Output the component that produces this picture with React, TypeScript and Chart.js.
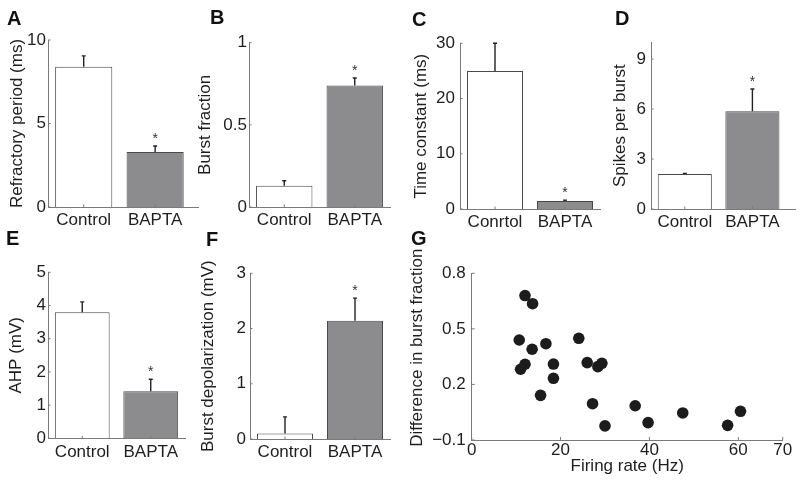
import React, { useEffect, useRef } from 'react';
import { Chart, registerables } from 'chart.js';

Chart.register(...registerables);

// ---------------- data ----------------
const groupLabels = ['Control', 'BAPTA'];
const groupLabelsC = ['Conrtol', 'BAPTA'];
const groupPositions = [1, 2];
const significance = ['', '*'];

const refractoryMean = [8.4, 3.3];
const refractoryErr = [0.65, 0.35];
const refractoryTicks = [0, 5, 10];

const burstFractionMean = [0.13, 0.74];
const burstFractionErr = [0.03, 0.045];
const burstFractionTicks = [0, 0.5, 1];

const timeConstantMean = [25.0, 1.45];
const timeConstantErr = [5.0, 0.15];
const timeConstantTicks = [0, 10, 20, 30];

const spikesPerBurstMean = [2.1, 5.86];
const spikesPerBurstErr = [0.04, 1.34];
const spikesPerBurstTicks = [0, 3, 6, 9];

const ahpMean = [3.8, 1.42];
const ahpErr = [0.31, 0.36];
const ahpTicks = [0, 1, 2, 3, 4, 5];

const burstDepolMean = [0.1, 2.14];
const burstDepolErr = [0.3, 0.41];
const burstDepolTicks = [0, 1, 2, 3];

const firingRate = [12.0, 13.7, 10.7, 13.6, 16.7, 12.0, 11.0, 18.4, 18.4, 15.5, 24.1, 26.0, 28.4, 29.3, 27.2, 30.0, 36.8, 39.7, 47.5, 57.6, 60.5];
const burstDiff = [0.68, 0.636, 0.44, 0.39, 0.42, 0.309, 0.282, 0.31, 0.233, 0.141, 0.449, 0.318, 0.296, 0.314, 0.096, -0.024, 0.085, -0.006, 0.046, -0.021, 0.055];
const firingTicks = [0, 20, 40, 60, 70];
const burstDiffTicks = [-0.1, 0.2, 0.5, 0.8];

// ---------------- style ----------------
const FONT = '"Liberation Sans", Arial, Helvetica, sans-serif';
const TEXT = '#1e1e1e';
const AXIS = '#7a7a7a';
const BAR_EDGE = '#4a4a4a';
const FILLS = ['#ffffff', '#8c8c8e'];
const DOT = '#1c1c1c';

type Box = { x0: number; y0: number; x1: number; y1: number };
type Area = { L: number; T: number; R: number; B: number };

const fmt = (v: number) => {
  const s = String(Math.round(v * 1000) / 1000);
  return s.startsWith('-') ? '\u2212' + s.slice(1) : s;
};

function decorPlugin(cfg: {
  means?: number[];
  errs?: number[];
  marks?: string[];
  tickLen: number;
  yTitle?: { text: string; x: number; y: number };
}) {
  return {
    id: 'decor',
    afterDatasetsDraw(chart: any) {
      const { ctx, scales } = chart;
      const x = scales.x;
      const y = scales.y;
      const area = chart.chartArea;
      ctx.save();
      // error bars and significance
      if (cfg.means && cfg.errs) {
        cfg.means.forEach((m, i) => {
          const px = x.getPixelForValue(groupPositions[i]);
          const p0 = y.getPixelForValue(m);
          const p1 = y.getPixelForValue(m + cfg.errs![i]);
          ctx.strokeStyle = '#222';
          ctx.lineWidth = 1.4;
          ctx.beginPath();
          ctx.moveTo(px, p0);
          ctx.lineTo(px, p1);
          ctx.moveTo(px - 2, p1);
          ctx.lineTo(px + 2, p1);
          ctx.stroke();
          const mk = cfg.marks ? cfg.marks[i] : '';
          if (mk) {
            ctx.fillStyle = '#333';
            ctx.font = `14px ${FONT}`;
            ctx.textAlign = 'center';
            ctx.textBaseline = 'alphabetic';
            ctx.fillText(mk, px, p1 - 3);
          }
        });
      }
      // inward tick marks
      ctx.strokeStyle = AXIS;
      ctx.lineWidth = 1;
      ctx.beginPath();
      y.ticks.forEach((t: any) => {
        const py = y.getPixelForValue(t.value);
        ctx.moveTo(area.left, py);
        ctx.lineTo(area.left + cfg.tickLen, py);
      });
      x.ticks.forEach((t: any) => {
        const px = x.getPixelForValue(t.value);
        ctx.moveTo(px, area.bottom);
        ctx.lineTo(px, area.bottom - cfg.tickLen);
      });
      ctx.stroke();
      ctx.restore();
    },
    afterDraw(chart: any) {
      if (!cfg.yTitle) return;
      const { ctx } = chart;
      ctx.save();
      ctx.translate(cfg.yTitle.x, cfg.yTitle.y);
      ctx.rotate(-Math.PI / 2);
      ctx.fillStyle = TEXT;
      ctx.font = `17px ${FONT}`;
      ctx.textAlign = 'center';
      ctx.textBaseline = 'middle';
      ctx.fillText(cfg.yTitle.text, 0, 0);
      ctx.restore();
    },
  };
}

type BarProps = {
  box: Box;
  area: Area;
  labels: string[];
  means: number[];
  errs: number[];
  yMax: number;
  yTicks: number[];
  xMax: number;
  yTitle: string;
  titleX: number;
  yTickPad: number;
};

function BarPanel(p: BarProps) {
  const ref = useRef<HTMLCanvasElement | null>(null);
  const w = p.box.x1 - p.box.x0;
  const h = p.box.y1 - p.box.y0;
  useEffect(() => {
    if (!ref.current) return;
    const chart = new Chart(ref.current, {
      type: 'bar',
      data: {
        datasets: [
          {
            data: groupPositions.map((g, i) => ({ x: g, y: p.means[i] })),
            backgroundColor: FILLS,
            borderColor: BAR_EDGE,
            borderWidth: 1,
            barPercentage: 0.8,
            categoryPercentage: 1,
          } as any,
        ],
      },
      options: {
        animation: false,
        responsive: false,
        devicePixelRatio: 1,
        layout: {
          padding: { left: 0, top: p.area.T - p.box.y0, right: p.box.x1 - p.area.R, bottom: 0 },
        },
        plugins: { legend: { display: false }, tooltip: { enabled: false } },
        scales: {
          x: {
            type: 'linear',
            offset: false,
            min: 0.5,
            max: p.xMax,
            grid: { display: false, drawTicks: false },
            border: { display: true, color: AXIS, width: 1 },
            ticks: {
              padding: 3.5,
              color: TEXT,
              font: { size: 17, family: FONT },
              callback: (v: any) => p.labels[Math.round(Number(v)) - 1] ?? '',
            },
            afterBuildTicks: (s: any) => {
              s.ticks = groupPositions.map((v) => ({ value: v }));
            },
            afterFit: (s: any) => {
              s.height = p.box.y1 - p.area.B;
            },
          },
          y: {
            type: 'linear',
            min: 0,
            max: p.yMax,
            grid: { display: false, drawTicks: false },
            border: { display: true, color: AXIS, width: 1 },
            ticks: {
              padding: p.yTickPad,
              color: TEXT,
              font: { size: 17, family: FONT },
              callback: (v: any) => fmt(Number(v)),
            },
            afterBuildTicks: (s: any) => {
              s.ticks = p.yTicks.map((v) => ({ value: v }));
            },
            title: {
              display: true,
              text: p.yTitle,
              color: TEXT,
              font: { size: 17, family: FONT },
              padding: { top: p.titleX - p.box.x0 - 10.2, bottom: 0 },
            },
            afterFit: (s: any) => {
              s.width = p.area.L - p.box.x0;
            },
          },
        },
      } as any,
      plugins: [decorPlugin({ means: p.means, errs: p.errs, marks: significance, tickLen: 2.5 })],
    });
    return () => chart.destroy();
  }, []);
  return (
    <canvas
      ref={ref}
      width={w}
      height={h}
      style={{ position: 'absolute', left: p.box.x0, top: p.box.y0, width: w, height: h }}
    />
  );
}

function ScatterPanel() {
  const ref = useRef<HTMLCanvasElement | null>(null);
  const box: Box = { x0: 400, y0: 238, x1: 800, y1: 491 };
  const area: Area = { L: 471.7, T: 273.3, R: 782.7, B: 440 };
  const w = box.x1 - box.x0;
  const h = box.y1 - box.y0;
  useEffect(() => {
    if (!ref.current) return;
    const chart = new Chart(ref.current, {
      type: 'scatter',
      data: {
        datasets: [
          {
            data: firingRate.map((f, i) => ({ x: f, y: burstDiff[i] })),
            backgroundColor: DOT,
            borderColor: DOT,
            borderWidth: 0,
            pointRadius: 5.8,
          },
        ],
      },
      options: {
        animation: false,
        responsive: false,
        devicePixelRatio: 1,
        layout: { padding: { left: 0, top: area.T - box.y0, right: box.x1 - area.R, bottom: 0 } },
        plugins: { legend: { display: false }, tooltip: { enabled: false } },
        scales: {
          x: {
            type: 'linear',
            min: 0,
            max: 70,
            grid: { display: false, drawTicks: false },
            border: { display: true, color: AXIS, width: 1 },
            ticks: { padding: 0, color: TEXT, font: { size: 17, family: FONT }, callback: (v: any) => fmt(Number(v)) },
            afterBuildTicks: (s: any) => {
              s.ticks = firingTicks.map((v) => ({ value: v }));
            },
            title: {
              display: true,
              text: 'Firing rate (Hz)',
              color: TEXT,
              font: { size: 17, family: FONT },
              padding: { top: 0, bottom: 14.1 },
            },
            afterFit: (s: any) => {
              s.height = box.y1 - area.B;
            },
          },
          y: {
            type: 'linear',
            min: -0.1,
            max: 0.8,
            grid: { display: false, drawTicks: false },
            border: { display: true, color: AXIS, width: 1 },
            ticks: { padding: 6, color: TEXT, font: { size: 17, family: FONT }, callback: (v: any) => fmt(Number(v)) },
            afterBuildTicks: (s: any) => {
              s.ticks = burstDiffTicks.map((v) => ({ value: v }));
            },
            afterFit: (s: any) => {
              s.width = area.L - box.x0;
            },
          },
        },
      } as any,
      plugins: [
        decorPlugin({
          tickLen: 3,
          yTitle: { text: 'Difference in burst fraction', x: 417 - box.x0, y: 347.7 - box.y0 },
        }),
      ],
    });
    return () => chart.destroy();
  }, []);
  return (
    <canvas ref={ref} width={w} height={h} style={{ position: 'absolute', left: box.x0, top: box.y0, width: w, height: h }} />
  );
}

const letterStyle = (left: number, baseline: number): React.CSSProperties => ({
  position: 'absolute',
  left,
  top: baseline - 16.9,
  fontFamily: FONT,
  fontWeight: 'bold',
  fontSize: 20,
  lineHeight: '20px',
  color: '#111',
});

export default function App() {
  return (
    <div style={{ position: 'absolute', left: 0, top: 0, width: 800, height: 491, background: '#fff', overflow: 'hidden' }}>
      <BarPanel
        box={{ x0: 0, y0: 26, x1: 205, y1: 232 }}
        area={{ L: 48, T: 40, R: 198, B: 207 }}
        labels={groupLabels}
        means={refractoryMean}
        errs={refractoryErr}
        yMax={10}
        yTicks={refractoryTicks}
        xMax={2.6}
        yTitle="Refractory period (ms)"
        titleX={17}
        yTickPad={2}
      />
      <BarPanel
        box={{ x0: 190, y0: 26, x1: 398, y1: 232 }}
        area={{ L: 249, T: 42.7, R: 390, B: 207 }}
        labels={groupLabels}
        means={burstFractionMean}
        errs={burstFractionErr}
        yMax={1}
        yTicks={burstFractionTicks}
        xMax={2.5}
        yTitle="Burst fraction"
        titleX={205}
        yTickPad={2}
      />
      <BarPanel
        box={{ x0: 400, y0: 26, x1: 606, y1: 234 }}
        area={{ L: 460, T: 43.3, R: 600, B: 209 }}
        labels={groupLabelsC}
        means={timeConstantMean}
        errs={timeConstantErr}
        yMax={30}
        yTicks={timeConstantTicks}
        xMax={2.5}
        yTitle="Time constant (ms)"
        titleX={421.7}
        yTickPad={5}
      />
      <BarPanel
        box={{ x0: 600, y0: 26, x1: 800, y1: 234 }}
        area={{ L: 651, T: 42.4, R: 795, B: 209 }}
        labels={groupLabels}
        means={spikesPerBurstMean}
        errs={spikesPerBurstErr}
        yMax={10}
        yTicks={spikesPerBurstTicks}
        xMax={2.63}
        yTitle="Spikes per burst"
        titleX={620.7}
        yTickPad={5}
      />
      <BarPanel
        box={{ x0: 0, y0: 258, x1: 200, y1: 470 }}
        area={{ L: 48, T: 272.3, R: 185, B: 438.3 }}
        labels={groupLabels}
        means={ahpMean}
        errs={ahpErr}
        yMax={5}
        yTicks={ahpTicks}
        xMax={2.5}
        yTitle="AHP (mV)"
        titleX={16.7}
        yTickPad={2}
      />
      <BarPanel
        box={{ x0: 195, y0: 258, x1: 398, y1: 470 }}
        area={{ L: 250, T: 273.3, R: 390, B: 439 }}
        labels={groupLabels}
        means={burstDepolMean}
        errs={burstDepolErr}
        yMax={3}
        yTicks={burstDepolTicks}
        xMax={2.5}
        yTitle="Burst depolarization (mV)"
        titleX={208.3}
        yTickPad={4}
      />
      <ScatterPanel />
      <div style={letterStyle(7, 25)}>A</div>
      <div style={letterStyle(210, 24)}>B</div>
      <div style={letterStyle(412, 26)}>C</div>
      <div style={letterStyle(615, 25)}>D</div>
      <div style={letterStyle(6, 245)}>E</div>
      <div style={letterStyle(206, 246)}>F</div>
      <div style={letterStyle(411, 245)}>G</div>
    </div>
  );
}
